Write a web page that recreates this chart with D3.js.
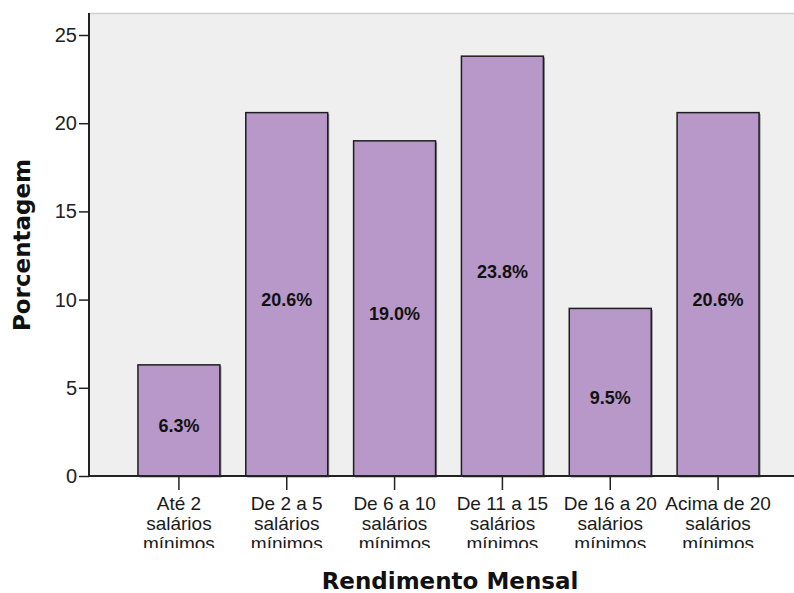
<!DOCTYPE html>
<html>
<head>
<meta charset="utf-8">
<script src="https://cdn.jsdelivr.net/npm/d3@7"></script>
<style>
  body { margin: 0; background: #fff; }
  svg { display: block; }
</style>
</head>
<body>
<div class="main"></div>
<script>
////Data
const categories = [
  ['Até 2', 'salários', 'mínimos'],
  ['De 2 a 5', 'salários', 'mínimos'],
  ['De 6 a 10', 'salários', 'mínimos'],
  ['De 11 a 15', 'salários', 'mínimos'],
  ['De 16 a 20', 'salários', 'mínimos'],
  ['Acima de 20', 'salários', 'mínimos']
];
const percentages = [6.3, 20.6, 19.0, 23.8, 9.5, 20.6];
const yTicks = [0, 5, 10, 15, 20, 25];

////Global Variables
const width = 794;
const height = 593;
const plotLeft = 89;
const plotTop = 13;
const plotBottom = 476;

const svg = d3.select('.main').append('svg')
  .attr('width', width)
  .attr('height', height);

const xScale = d3.scaleBand()
  .domain(d3.range(categories.length))
  .range([125, 772])
  .paddingInner(0.24)
  .paddingOuter(0.12);

const yScale = d3.scaleLinear()
  .domain([0, 25])
  .range([plotBottom, plotBottom - 441]);

////Plot background
svg.append('rect')
  .attr('x', plotLeft)
  .attr('y', plotTop)
  .attr('width', width - plotLeft)
  .attr('height', plotBottom - plotTop)
  .attr('fill', '#efefef');
svg.append('line')
  .attr('x1', plotLeft).attr('x2', width)
  .attr('y1', plotTop + 0.5).attr('y2', plotTop + 0.5)
  .attr('stroke', '#cfcfcf')
  .attr('stroke-width', 1.5);

////Bars (shadow first, then bar)
const bars = svg.append('g');
bars.selectAll('rect.shadow')
  .data(percentages)
  .enter()
  .append('rect')
  .attr('class', 'shadow')
  .attr('x', (d, i) => xScale(i) + 1.5)
  .attr('y', d => yScale(d) + 1.5)
  .attr('width', xScale.bandwidth())
  .attr('height', d => plotBottom - yScale(d))
  .attr('fill', '#8a8a8a');
bars.selectAll('rect.bar')
  .data(percentages)
  .enter()
  .append('rect')
  .attr('class', 'bar')
  .attr('x', (d, i) => xScale(i))
  .attr('y', d => yScale(d))
  .attr('width', xScale.bandwidth())
  .attr('height', d => plotBottom - yScale(d))
  .attr('fill', '#b798c8')
  .attr('stroke', '#1e1e1e')
  .attr('stroke-width', 1.5);

////Value labels
svg.append('g').selectAll('text')
  .data(percentages)
  .enter()
  .append('text')
  .attr('x', (d, i) => xScale(i) + xScale.bandwidth() / 2)
  .attr('y', d => (yScale(d) + plotBottom) / 2)
  .attr('dy', '0.64em')
  .attr('text-anchor', 'middle')
  .attr('font-family', 'Liberation Sans, Arial, sans-serif')
  .attr('font-weight', 'bold')
  .attr('font-size', 18)
  .attr('fill', '#111')
  .text(d => d.toFixed(1) + '%');

////Axes
const yAxis = d3.axisLeft(yScale)
  .tickValues(yTicks)
  .tickSize(10)
  .tickPadding(2)
  .tickFormat(d3.format('d'));
const gy = svg.append('g')
  .attr('id', 'y-axis')
  .attr('transform', `translate(${plotLeft}, 0)`)
  .call(yAxis);
gy.select('.domain').remove();
gy.selectAll('.tick line').attr('stroke', '#222').attr('stroke-width', 1.5);
gy.selectAll('.tick text')
  .attr('font-family', 'Liberation Sans, Arial, sans-serif')
  .attr('font-size', 20)
  .attr('fill', '#222');

const xAxis = d3.axisBottom(xScale)
  .tickSize(14)
  .tickFormat('');
const gx = svg.append('g')
  .attr('id', 'x-axis')
  .attr('transform', `translate(0, ${plotBottom})`)
  .call(xAxis);
gx.select('.domain').remove();
gx.selectAll('.tick line').attr('stroke', '#222').attr('stroke-width', 1.5);

svg.append('clipPath').attr('id', 'labelClip')
  .append('rect').attr('x', 0).attr('y', plotBottom).attr('width', width).attr('height', 72);

const xLabels = svg.append('g')
  .attr('clip-path', 'url(#labelClip)')
  .selectAll('text')
  .data(categories)
  .enter()
  .append('text')
  .attr('x', (d, i) => xScale(i) + xScale.bandwidth() / 2)
  .attr('y', 510)
  .attr('text-anchor', 'middle')
  .attr('font-family', 'Liberation Sans, Arial, sans-serif')
  .attr('font-size', 19)
  .attr('fill', '#1a1a1a');
xLabels.selectAll('tspan')
  .data(d => d)
  .enter()
  .append('tspan')
  .attr('x', function () { return d3.select(this.parentNode).attr('x'); })
  .attr('dy', (d, i) => i === 0 ? 0 : 20)
  .text(d => d);

////Axis lines
svg.append('line')
  .attr('x1', plotLeft).attr('x2', plotLeft)
  .attr('y1', plotTop).attr('y2', plotBottom + 1)
  .attr('stroke', '#222').attr('stroke-width', 2);
svg.append('line')
  .attr('x1', plotLeft).attr('x2', width)
  .attr('y1', plotBottom).attr('y2', plotBottom)
  .attr('stroke', '#222').attr('stroke-width', 2);

////Axis titles
svg.append('text')
  .attr('transform', 'translate(30, 245) rotate(-90)')
  .attr('text-anchor', 'middle')
  .attr('font-family', 'DejaVu Sans, Verdana, sans-serif')
  .attr('font-weight', 'bold')
  .attr('font-size', 23)
  .attr('fill', '#111')
  .text('Porcentagem');

svg.append('text')
  .attr('x', 450)
  .attr('y', 589)
  .attr('text-anchor', 'middle')
  .attr('font-family', 'DejaVu Sans, Verdana, sans-serif')
  .attr('font-weight', 'bold')
  .attr('font-size', 23)
  .attr('fill', '#111')
  .text('Rendimento Mensal');
</script>
</body>
</html>
